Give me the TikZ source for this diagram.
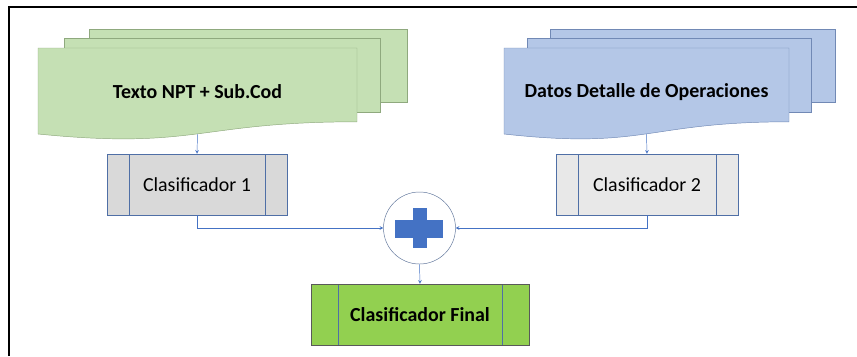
\documentclass[tikz,border=0pt]{standalone}
\usepackage{fontspec}
\setmainfont{Carlito}
\usetikzlibrary{positioning}

\definecolor{docgreen}{HTML}{C5E0B4}
\definecolor{docgreenline}{HTML}{8FA97E}
\definecolor{docblue}{HTML}{B4C7E7}
\definecolor{docblueline}{HTML}{7189B5}
\definecolor{boxline}{HTML}{4F6FA6}
\definecolor{connblue}{HTML}{4472C4}
\definecolor{finalgreen}{HTML}{92D050}

\tikzset{
  doctext/.style={font=\fontsize{17}{20}\selectfont\bfseries},
  clsbox/.style={draw=boxline, minimum height=1.83cm, font=\fontsize{17}{20}\selectfont,
    path picture={
      \draw[boxline] ([xshift=#1]path picture bounding box.north west) -- ([xshift=#1]path picture bounding box.south west);
      \draw[boxline] ([xshift=-#1]path picture bounding box.north east) -- ([xshift=-#1]path picture bounding box.south east);
    }},
  conn/.style={draw=connblue, -stealth},
}

\begin{document}
\begin{tikzpicture}[x=0.03cm, y=-0.03cm]
        \useasboundingbox (0,0) rectangle (857,356);
        \draw[line width=1.2pt] (9,356) -- (9,7) -- (857,7);

        \filldraw[fill=docgreen, draw=docgreenline] (89,29) rectangle (407,102);
        \filldraw[fill=docgreen, draw=docgreenline] (64,38) rectangle (380,112);
        \filldraw[fill=docgreen, draw=docgreenline] (38,48) -- (357,48) -- (357,121.8)
            .. controls (197.5,121.8) and (197.5,149.9) .. (38,134) -- cycle;
        \node[doctext] (texto) at (197.5,92) {Texto NPT + Sub.Cod};
        \coordinate (textobot) at (197.5,134);

        \filldraw[fill=docblue, draw=docblueline] (550,29) rectangle (835,102);
        \filldraw[fill=docblue, draw=docblueline] (527,38) rectangle (811,112);
        \filldraw[fill=docblue, draw=docblueline] (504,48) -- (789,48) -- (789,121.8)
            .. controls (646.5,121.8) and (646.5,149.9) .. (504,134) -- cycle;
        \node[doctext] (datos) at (646.5,92) {Datos Detalle de Operaciones};
        \coordinate (datosbot) at (646.5,134);

        \node[clsbox=0.66cm, fill=black!15, minimum width=5.4cm] (clas1) at (197,184.5) {Clasificador 1};
        \node[clsbox=0.66cm, fill=black!9, minimum width=5.46cm] (clas2) at (647,184.5) {Clasificador 2};
        \node[circle, draw=boxline!70!gray, fill=white, minimum size=2.16cm] (suma) at (419.5,228) {};
        \fill[connblue] (395,219.5) rectangle (443,237.5);
        \fill[connblue] (412.5,208) rectangle (426.5,248);
        \node[clsbox=0.81cm, draw=black!65, fill=finalgreen, minimum width=6.54cm, font=\fontsize{17}{20}\selectfont\bfseries] (final) at (420,314.5) {Clasificador Final};

        \draw[conn] (textobot) -- (clas1.north);
        \draw[conn] (datosbot) -- (clas2.north);
        \draw[conn] (clas1.south) |- (suma.west);
        \draw[conn] (clas2.south) |- (suma.east);
        \draw[conn] (suma.south) -- (final.north);
    \end{tikzpicture}
\end{document}
